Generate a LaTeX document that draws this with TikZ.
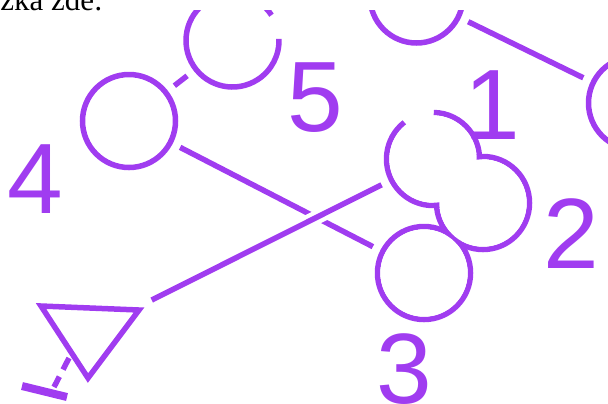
\documentclass[tikz,border=0pt]{standalone}
\usepackage{fontspec}
\setmainfont{Liberation Serif}
\newfontfamily\digitfont{Liberation Sans}
\usepackage{tikz}
\usetikzlibrary{arrows.meta}
\definecolor{ringviolet}{RGB}{160,60,240}
\tikzset{
  ringnode/.style={circle, minimum size=46.5pt, inner sep=0pt, outer sep=5.5pt},
  ringbox/.style={ringnode, draw=ringviolet, line width=2.75pt},
  ringarc/.style={draw=ringviolet, line width=2.75pt},
  ringline/.style={draw=ringviolet, line width=2.75pt},
  crossline/.style={ringline, preaction={draw=white, line width=7pt}},
  numlabel/.style={text=ringviolet, font=\digitfont\fontsize{50}{50}\selectfont, inner sep=0pt}
}

\begin{document}
\begin{tikzpicture}[x=0.5pt, y=-0.5pt]
  \useasboundingbox (0,0) rectangle (608,403);
  \begin{scope}
    \clip (0,0) rectangle (608,10);
    \node[anchor=base west, inner sep=0pt, font=\fontsize{15.5}{18}\selectfont] (caption) at (0,10.5) {zka zde:};
  \end{scope}
  \begin{scope}
    \clip (0,10) rectangle (608,403);
    \node[ringbox] (c4) at (129,121) {};
    \node[ringnode] (c5) at (232.5,40.5) {};
    \node[ringbox] (ctop) at (416.5,-3.5) {};
    \node[ringbox] (cright) at (635,103) {};
    \node[ringnode] (c1) at (433,159) {};
    \node[ringbox] (c2) at (483,203) {};
    \node[ringbox] (c3) at (424,273) {};
    \coordinate (tri) at (90,331);

    \draw[ringarc] (c5.center) ++(33:23.25pt) arc[start angle=33, end angle=362, radius=23.25pt];
    \draw[ringarc] (c1.center) ++(128:23.25pt) arc[start angle=128, end angle=449, radius=23.25pt];
    \foreach \c in {c1,c2,c3}
      \fill[white] (\c.center) circle[radius=21.85pt];

    \draw[ringline] (c4) -- (c5);
    \draw[ringline] (ctop) -- (cright);
    \draw[ringline] (c4) -- (c3);
    \draw[crossline, shorten <=34.5pt] (tri) -- (c1);

    \draw[ringline, line join=miter] (tri) ++(-49,-25) -- ++(98,4) -- ++(-51,68) -- cycle;
    \draw[ringline, dash pattern=on 6.5pt off 4pt] (tri) ++(-21,27) -- ++(-15,29);
    \draw[ringline, line width=4pt] (tri) ++(-68,55) -- ++(45,11);

    \node[numlabel] (n4) at (35,179.5) {4};
    \node[numlabel] (n5) at (315.5,97.5) {5};
    \node[numlabel] (n1) at (492,105) {1};
    \node[numlabel] (n2) at (571,234) {2};
    \node[numlabel] (n3) at (404,369) {3};
  \end{scope}
\end{tikzpicture}
\end{document}
